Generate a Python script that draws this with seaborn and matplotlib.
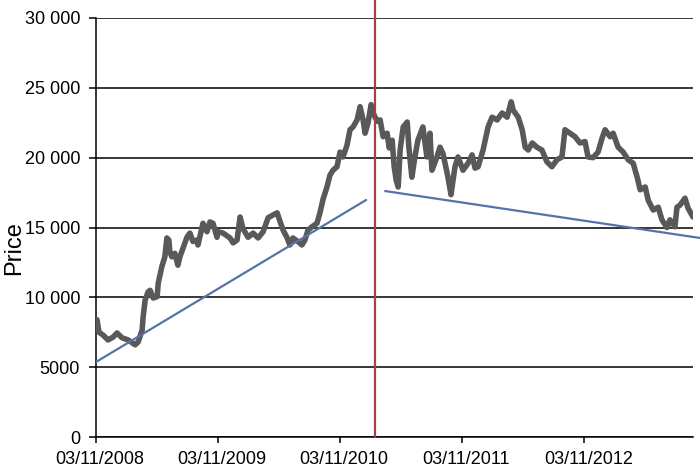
import numpy as np
import pandas as pd
import matplotlib
matplotlib.use("Agg")
import matplotlib.pyplot as plt
from matplotlib.transforms import ScaledTranslation
import seaborn as sns

# ---- data ----
start_date = "2008-11-03"
price_day = [0, 3, 9, 21, 36, 51, 63, 78, 96, 117, 126, 138, 141, 147, 156, 162, 171, 183, 186,
             197, 206, 212, 218, 221, 227, 236, 245, 251, 260, 272, 281, 290, 302, 305, 320, 332,
             341, 350, 362, 365, 380, 401, 410, 422, 431, 440, 455, 470, 485, 500, 515, 530, 542,
             551, 560, 571, 580, 589, 604, 616, 625, 634, 646, 661, 670, 679, 691, 700, 709, 721,
             730, 739, 751, 760, 769, 781, 790, 799, 805, 814, 823, 829, 841, 850, 859, 871, 877,
             886, 892, 898, 904, 910, 919, 931, 936, 945, 954, 963, 978, 990, 999, 1005, 1020,
             1029, 1038, 1053, 1062, 1074, 1083, 1098, 1113, 1125, 1134, 1143, 1158, 1173, 1185,
             1200, 1215, 1230, 1242, 1248, 1263, 1275, 1284, 1293, 1305, 1319, 1334, 1349, 1364,
             1379, 1394, 1403, 1418, 1433, 1448, 1463, 1472, 1487, 1502, 1514, 1523, 1538, 1547,
             1562, 1577, 1592, 1607, 1619, 1628, 1643, 1652, 1667, 1682, 1693, 1708, 1717, 1732,
             1738, 1747, 1762, 1771, 1786]
price_value = [8000, 8400, 7500, 7300, 6950, 7150, 7450, 7100, 6950, 6600, 6800, 7650, 8600, 9800,
               10400, 10500, 9950, 10050, 11000, 12200, 12900, 14250, 14100, 13250, 12900, 13150,
               12300, 12900, 13500, 14300, 14600, 14000, 14100, 13750, 15300, 14700, 15400, 15300,
               14300, 14700, 14600, 14250, 13900, 14100, 15750, 14900, 14300, 14600, 14250, 14700,
               15700, 15900, 16050, 15400, 14800, 14300, 13750, 14250, 14000, 13750, 14100, 14800,
               15050, 15300, 16050, 17000, 17900, 18750, 19100, 19350, 20400, 20050, 20900, 22000,
               22200, 22700, 23650, 22700, 21750, 22500, 23800, 23200, 22600, 22700, 21500, 21750,
               20700, 21250, 19350, 18400, 17900, 20600, 22200, 22550, 20750, 18600, 20050, 21250,
               22200, 20050, 21750, 19100, 20050, 20750, 20300, 18600, 17350, 19350, 20050, 19100,
               19600, 20200, 19250, 19350, 20550, 22200, 22900, 22700, 23200, 22900, 24000, 23400,
               22900, 22000, 20750, 20550, 21050, 20750, 20550, 19700, 19350, 19850, 20050, 22000,
               21750, 21500, 21050, 21150, 20050, 20000, 20400, 21400, 22000, 21500, 21750, 20750,
               20400, 19850, 19600, 18600, 17700, 17900, 16950, 16250, 16450, 15550, 15000, 15550,
               15050, 16450, 16600, 17100, 16400, 15750]
trend1_day = [0, 808]
trend1_value = [5370, 16970]
trend2_day = [865, 1807]
trend2_value = [17610, 14250]
break_day = 835
end_day = 1786
xtick_dates = ["2008-11-03", "2009-11-03", "2010-11-03", "2011-11-03", "2012-11-03"]
xtick_labels = ["03/11/2008", "03/11/2009", "03/11/2010", "03/11/2011", "03/11/2012"]
ytick_values = [0, 5000, 10000, 15000, 20000, 25000, 30000]
ytick_labels = ["0", "5000", "10 000", "15 000", "20 000", "25 000", "30 000"]

# ---- style ----
sns.set_style("white")
plt.rcParams["font.family"] = ["Liberation Sans", "DejaVu Sans"]

base = pd.Timestamp(start_date)
df_price = pd.DataFrame({"Date": base + pd.to_timedelta(price_day, unit="D"),
                         "Price": price_value})
df_t1 = pd.DataFrame({"Date": base + pd.to_timedelta(trend1_day, unit="D"),
                      "Price": trend1_value})
df_t2 = pd.DataFrame({"Date": base + pd.to_timedelta(trend2_day, unit="D"),
                      "Price": trend2_value})

fig = plt.figure(figsize=(7, 4.76), dpi=100)
ax = fig.add_axes([96 / 700, 39 / 476, 597 / 700, 419 / 476])

sns.lineplot(data=df_price, x="Date", y="Price", color="#595959", linewidth=4.0,
             ax=ax, zorder=3, solid_joinstyle="round", solid_capstyle="round")
sns.lineplot(data=df_t1, x="Date", y="Price", color="#5572AA", linewidth=1.6, ax=ax, zorder=4)
sns.lineplot(data=df_t2, x="Date", y="Price", color="#5572AA", linewidth=1.6, ax=ax, zorder=4)
ax.lines[-1].set_clip_on(False)

ax.axvline(base + pd.Timedelta(days=break_day), ymin=0, ymax=1 + 18 / 419,
           color="#A3433F", linewidth=1.6, clip_on=False, zorder=5)

ax.set_xlim(base, base + pd.Timedelta(days=end_day))
ax.set_ylim(0, 30000)
ax.set_xticks(pd.to_datetime(xtick_dates))
ax.set_xticklabels(xtick_labels)
ax.set_yticks(ytick_values)
ax.set_yticklabels(ytick_labels)

ax.yaxis.grid(True, color="black", linewidth=1.1)
ax.xaxis.grid(False)
ax.set_axisbelow(True)

for side in ["top", "right"]:
    ax.spines[side].set_visible(False)
for side in ["left", "bottom"]:
    ax.spines[side].set_color("black")
    ax.spines[side].set_linewidth(1.1)

ax.tick_params(axis="both", which="major", direction="out", bottom=True, left=True,
               width=1.1, color="black", labelsize=13, labelcolor="black")
ax.tick_params(axis="y", pad=6.5, length=5)
ax.tick_params(axis="x", pad=5.5, length=4.3)

shift = ScaledTranslation(4 / 100, 0, fig.dpi_scale_trans)
for lab in ax.get_xticklabels():
    lab.set_transform(lab.get_transform() + shift)

ax.set_xlabel("")
ax.set_ylabel("Price", fontsize=17, color="black")
ax.yaxis.set_label_coords(-0.119, 0.452)

fig.savefig("out.png", dpi=100, facecolor="white")
